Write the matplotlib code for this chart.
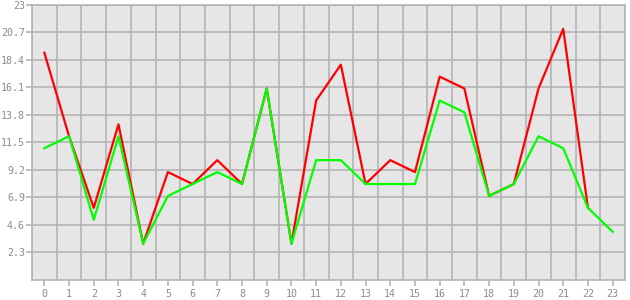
import matplotlib
matplotlib.use("Agg")
import matplotlib.pyplot as plt
import numpy as np

x_red = list(range(0, 23))
red = [19, 12, 6, 13, 3, 9, 8, 10, 8, 16, 3, 15, 18, 8, 10, 9, 17, 16, 7, 8, 16, 21, 6]
x_green = list(range(0, 24))
green = [11, 12, 5, 12, 3, 7, 8, 9, 8, 16, 3, 10, 10, 8, 8, 8, 15, 14, 7, 8, 12, 11, 6, 4]
y_ticks = [2.3, 4.6, 6.9, 9.2, 11.5, 13.8, 16.1, 18.4, 20.7, 23]
y_labels = ["2.3", "4.6", "6.9", "9.2", "11.5", "13.8", "16.1", "18.4", "20.7", "23"]
x_ticks = list(range(0, 24))

fig = plt.figure(figsize=(6.3, 3.0), dpi=100)
ax = fig.add_axes([32/630, 1 - 279.5/300, (625 - 32)/630, (279.5 - 5)/300])
ax.set_facecolor("#e6e6e6")
ax.set_xlim(-0.5, 23.5)
ax.set_ylim(0, 23)

gridc = "#b4b4b4"
for xv in np.arange(-0.5, 24, 1.0):
    ax.axvline(xv, color=gridc, lw=1.2, zorder=1)
for yv in y_ticks:
    ax.axhline(yv, color=gridc, lw=1.2, zorder=1)

ax.plot(x_red, red, color="#ff0000", lw=1.6, zorder=3)
ax.plot(x_green, green, color="#00ff00", lw=1.6, zorder=4)

ax.set_xticks(x_ticks)
ax.set_xticklabels([str(v) for v in x_ticks])
ax.set_yticks(y_ticks)
ax.set_yticklabels(y_labels)
for s in ax.spines.values():
    s.set_color(gridc)
    s.set_linewidth(1.2)
ax.tick_params(axis="both", colors=gridc, labelcolor="#8c8c8c", labelsize=7.2,
               length=4, width=1.2)
ax.tick_params(axis="x", pad=3)
ax.tick_params(axis="y", pad=1)
for lab in ax.get_xticklabels() + ax.get_yticklabels():
    lab.set_family("DejaVu Sans Mono")

fig.savefig("out.png", dpi=100, facecolor="white")
